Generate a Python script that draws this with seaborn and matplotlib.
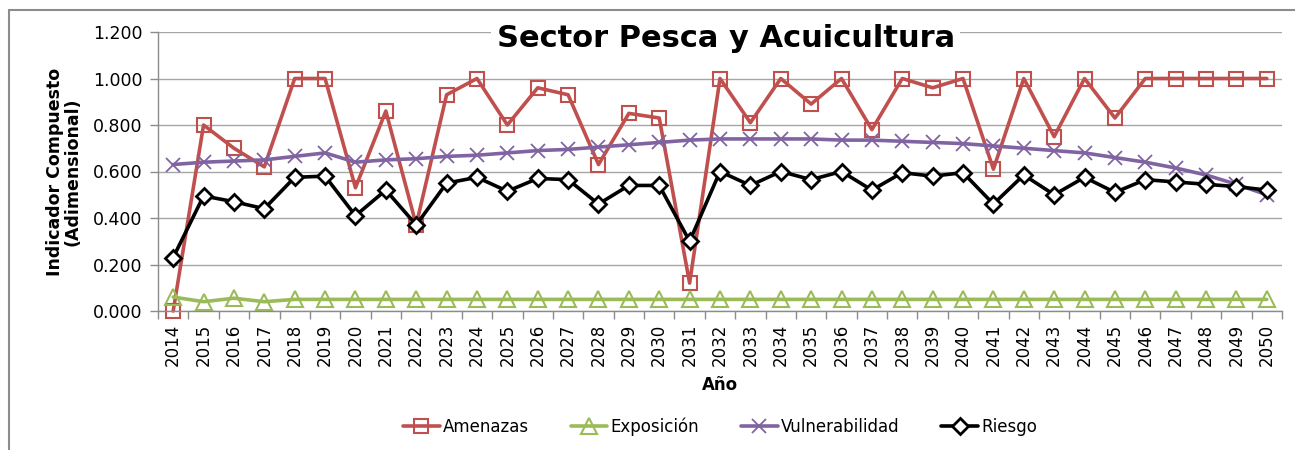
import numpy as np
import pandas as pd
import matplotlib
matplotlib.use("Agg")
import matplotlib.pyplot as plt
from matplotlib.lines import Line2D
from matplotlib.ticker import FuncFormatter, FixedLocator
import seaborn as sns

# datos
anios = list(range(2014, 2051))

amenazas = [0.00, 0.80, 0.70, 0.62, 1.00, 1.00, 0.53, 0.86, 0.37, 0.93,
            1.00, 0.80, 0.96, 0.93, 0.63, 0.85, 0.83, 0.12, 1.00, 0.81,
            1.00, 0.89, 1.00, 0.78, 1.00, 0.96, 1.00, 0.61, 1.00, 0.75,
            1.00, 0.83, 1.00, 1.00, 1.00, 1.00, 1.00]

exposicion = [0.060, 0.040, 0.055, 0.040, 0.050, 0.050, 0.050, 0.050, 0.050, 0.050,
              0.050, 0.050, 0.050, 0.050, 0.050, 0.050, 0.050, 0.050, 0.050, 0.050,
              0.050, 0.050, 0.050, 0.050, 0.050, 0.050, 0.050, 0.050, 0.050, 0.050,
              0.050, 0.050, 0.050, 0.050, 0.050, 0.050, 0.050]

vulnerabilidad = [0.630, 0.640, 0.645, 0.650, 0.665, 0.680, 0.640, 0.650, 0.655, 0.665,
                  0.670, 0.680, 0.690, 0.695, 0.705, 0.715, 0.725, 0.735, 0.740, 0.740,
                  0.740, 0.740, 0.735, 0.735, 0.730, 0.725, 0.720, 0.710, 0.700, 0.690,
                  0.680, 0.660, 0.640, 0.615, 0.585, 0.545, 0.500]

riesgo = [0.230, 0.495, 0.470, 0.440, 0.575, 0.580, 0.410, 0.520, 0.370, 0.550,
          0.575, 0.515, 0.570, 0.565, 0.460, 0.540, 0.540, 0.300, 0.600, 0.540,
          0.600, 0.565, 0.600, 0.520, 0.595, 0.580, 0.595, 0.460, 0.585, 0.500,
          0.575, 0.510, 0.565, 0.555, 0.545, 0.535, 0.520]

y_ticks = [0.0, 0.2, 0.4, 0.6, 0.8, 1.0, 1.2]

sns.set_theme(style="white")
plt.rcParams['font.family'] = ['DejaVu Sans']
plt.rcParams['text.color'] = 'black'
plt.rcParams['axes.labelcolor'] = 'black'
plt.rcParams['xtick.color'] = 'black'
plt.rcParams['ytick.color'] = 'black'

fig = plt.figure(figsize=(12.95, 4.5), dpi=100)
ax = fig.add_axes([158 / 1295, 1 - 311 / 450, 1124 / 1295, 279 / 450])

series = [
    ("Amenazas", amenazas, dict(color="#C0504D", marker="s", markersize=10,
                                markerfacecolor="none", markeredgecolor="#C0504D",
                                markeredgewidth=1.5)),
    ("Exposición", exposicion, dict(color="#9BBB59", marker="^", markersize=11,
                                     markerfacecolor="none", markeredgecolor="#9BBB59",
                                     markeredgewidth=1.5)),
    ("Vulnerabilidad", vulnerabilidad, dict(color="#8064A2", marker="x", markersize=10,
                                             markeredgecolor="#8064A2", markeredgewidth=1.3)),
    ("Riesgo", riesgo, dict(color="black", marker="D", markersize=8,
                            markerfacecolor="white", markeredgecolor="black",
                            markeredgewidth=2.0)),
]

for nombre, valores, estilo in series:
    sns.lineplot(x=anios, y=valores, ax=ax, label=nombre, linewidth=2.6,
                 clip_on=False, **estilo)

# ejes
ax.set_xlim(2013.5, 2050.5)
ax.set_ylim(0, 1.2)
ax.set_yticks(y_ticks)
ax.yaxis.set_major_formatter(FuncFormatter(lambda v, p: f"{v:.3f}"))
ax.set_xticks(anios)
ax.set_xticklabels([str(a) for a in anios], rotation=90)
ax.xaxis.set_minor_locator(FixedLocator(np.arange(2013.5, 2051, 1)))
ax.tick_params(axis="x", which="major", length=0, labelsize=12, pad=9)
ax.tick_params(axis="x", which="minor", length=6, width=1, color="#8c8c8c", bottom=True)
ax.tick_params(axis="y", which="major", length=6, width=1, color="#8c8c8c", left=True,
               labelsize=12.5, pad=5)

ax.grid(axis="y", color="#a6a6a6", linewidth=1)
ax.grid(axis="x", visible=False)
for s in ["top", "right"]:
    ax.spines[s].set_visible(False)
for s in ["left", "bottom"]:
    ax.spines[s].set_color("#8c8c8c")
    ax.spines[s].set_linewidth(1)

ax.set_xlabel("Año", fontsize=12, fontweight="bold")
ax.xaxis.set_label_coords(0.5, -0.232)
ax.set_ylabel("Indicador Compuesto\n(Adimensional)", fontsize=12.5, fontweight="bold",
              linespacing=1.0)
ax.yaxis.set_label_coords(-0.068, 0.5)

ax.text(0.505, 0.978, "Sector Pesca y Acuicultura", transform=ax.transAxes,
        ha="center", va="center", fontsize=22, fontweight="bold",
        bbox=dict(facecolor="white", edgecolor="none", pad=4), zorder=10)

ax.legend(loc="center", bbox_to_anchor=(0.5, -0.416), ncol=4, frameon=False,
          fontsize=12, handlelength=2.2, columnspacing=2.5, handletextpad=0.2)

# marco exterior
fig.add_artist(Line2D([9 / 1295, 1], [1 - 10 / 450, 1 - 10 / 450], color="#8c8c8c",
                      linewidth=1.5, transform=fig.transFigure))
fig.add_artist(Line2D([9 / 1295, 9 / 1295], [0, 1 - 10 / 450], color="#8c8c8c",
                      linewidth=1.5, transform=fig.transFigure))

fig.savefig("out.png", dpi=100)
